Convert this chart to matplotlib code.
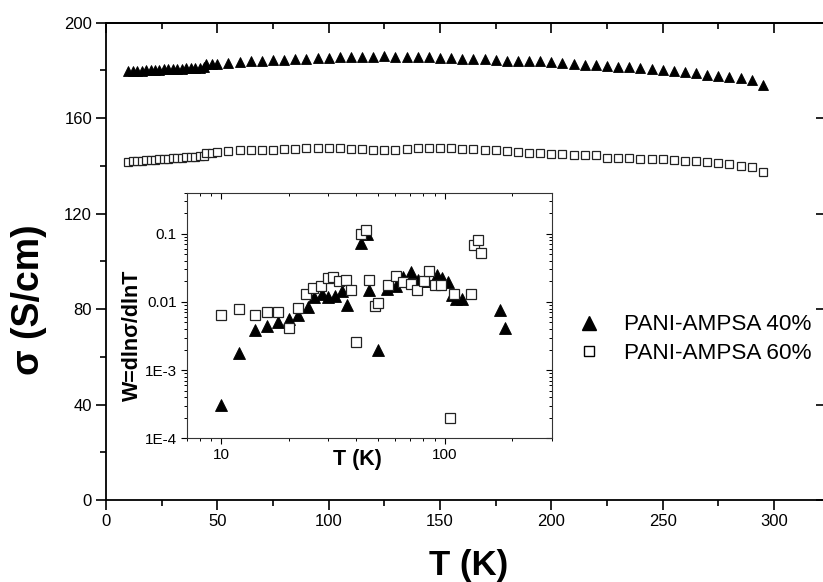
import matplotlib
matplotlib.use("Agg")
import matplotlib.pyplot as plt
from matplotlib.lines import Line2D
from matplotlib.ticker import MultipleLocator, FixedLocator, FixedFormatter, NullFormatter, LogLocator

plt.rcParams['font.family'] = ['Liberation Sans', 'DejaVu Sans']

# Conductivity vs temperature (S/cm)
temp = [10, 12, 14, 16, 18, 20, 22, 24, 26, 28, 30, 32, 34, 36, 38, 40, 42, 44,
        45, 47.5, 50, 55, 60, 65, 70, 75, 80, 85, 90, 95, 100, 105, 110, 115, 120,
        125, 130, 135, 140, 145, 150, 155, 160, 165, 170, 175, 180, 185, 190, 195,
        200, 205, 210, 215, 220, 225, 230, 235, 240, 245, 250, 255, 260, 265, 270,
        275, 280, 285, 290, 295]
sigma_40 = [179.6, 179.7, 179.8, 179.9, 180.0, 180.1, 180.2, 180.3, 180.4, 180.5,
            180.6, 180.7, 180.8, 180.9, 181.0, 181.1, 181.2, 181.4,
            182.6, 182.7, 182.9, 183.1, 183.4, 183.8, 184.1, 184.2, 184.5, 184.8,
            184.9, 185.2, 185.2, 185.5, 185.5, 185.6, 185.7, 185.9, 185.6, 185.6,
            185.5, 185.5, 185.2, 185.2, 184.9, 184.9, 184.8, 184.5, 184.1, 184.1,
            183.8, 183.8, 183.5, 183.1, 182.7, 182.4, 182.4, 181.7, 181.5, 181.3,
            181.0, 180.7, 180.3, 179.6, 179.3, 178.9, 178.2, 177.8, 177.1, 176.8,
            176.1, 174.0]
sigma_60 = [141.8, 142.0, 142.1, 142.2, 142.4, 142.5, 142.6, 142.8, 142.9, 143.0,
            143.2, 143.3, 143.4, 143.6, 143.7, 143.8, 144.0, 144.2,
            145.5, 145.6, 145.7, 146.1, 146.5, 146.5, 146.8, 146.8, 147.0, 147.1,
            147.3, 147.3, 147.3, 147.3, 147.1, 147.0, 146.5, 146.5, 146.6, 147.1,
            147.6, 147.6, 147.4, 147.3, 147.0, 146.9, 146.8, 146.5, 146.1, 145.8,
            145.4, 145.2, 145.0, 144.8, 144.6, 144.5, 144.5, 143.3, 143.2, 143.1,
            143.0, 142.9, 142.7, 142.4, 142.2, 142.0, 141.6, 141.2, 140.7, 140.1,
            139.6, 137.4]

# Reduced activation energy W = dln(sigma)/dln(T)
w_temp_40 = [10, 12.0, 14.1, 16.0, 18.0, 20.1, 22.1, 24.3, 26.0, 28.3, 30.1, 32.3,
             34.6, 36.4, 42.1, 45.0, 45.9, 50.4, 54.9, 60.4, 65.1, 70.3, 76.1, 82.8,
             92, 97, 103, 107, 112, 118.6, 176, 185.5]
w_40 = [3.1e-4, 1.8e-3, 3.9e-3, 4.5e-3, 5.1e-3, 5.7e-3, 6.4e-3, 8.3e-3, 0.0118,
        0.0132, 0.0118, 0.0121, 0.0143, 8.9e-3, 0.074, 0.098, 0.0148, 2.0e-3,
        0.0157, 0.0169, 0.0232, 0.0275, 0.0207, 0.0203, 0.0245, 0.0225, 0.0195,
        0.0125, 0.0112, 0.0112, 7.6e-3, 4.1e-3]
w_temp_60 = [10, 12.0, 14.1, 16.0, 18.0, 20.1, 22.0, 23.9, 25.8, 28.0, 29.9, 31.7,
             33.7, 36.1, 37.9, 40.1, 42.3, 44.2, 45.9, 48.4, 50.4, 55.5, 60.4, 65.1,
             70.3, 75.2, 80.5, 85.1, 90.2, 95.6, 105.2, 110.2, 130.3, 134.7, 140.8,
             144.8]
w_60 = [6.4e-3, 7.8e-3, 6.4e-3, 7.1e-3, 7.0e-3, 4.2e-3, 8.2e-3, 0.0132, 0.0162,
        0.0171, 0.0227, 0.0232, 0.0203, 0.0207, 0.0151, 2.6e-3, 0.100, 0.112,
        0.0207, 8.7e-3, 9.8e-3, 0.0175, 0.024, 0.0196, 0.0182, 0.0148, 0.0200,
        0.0285, 0.0175, 0.0175, 1.96e-4, 0.0132, 0.0129, 0.0675, 0.0817, 0.0521]

labels = ['PANI-AMPSA 40%', 'PANI-AMPSA 60%']

W, H = 823, 582
fig = plt.figure(figsize=(W / 100, H / 100), dpi=100)

# main plot
ax = fig.add_axes([106 / W, 1 - 500 / H, 717 / W, 477.3 / H])
ax.plot(temp, sigma_40, ls='none', marker='^', ms=7.6, mfc='black', mec='black', mew=0.6)
ax.plot(temp, sigma_60, ls='none', marker='s', ms=6.3, mfc='white', mec='#222222', mew=0.9)
ax.set_xlim(0, 322)
ax.set_ylim(0, 200)
ax.spines['right'].set_visible(False)
for s in ['left', 'bottom', 'top']:
    ax.spines[s].set_linewidth(1.3)
ax.xaxis.set_major_locator(MultipleLocator(50))
ax.xaxis.set_minor_locator(MultipleLocator(25))
ax.yaxis.set_major_locator(MultipleLocator(40))
ax.yaxis.set_minor_locator(MultipleLocator(20))
ax.tick_params(which='major', direction='out', length=7, width=1.2, labelsize=12, pad=3)
ax.tick_params(which='minor', direction='out', length=4, width=1.2)
ax.set_xlabel('T (K)', fontsize=25, fontweight='bold')
ax.xaxis.set_label_coords(0.506, -0.102)
ax.set_ylabel('σ (S/cm)', fontsize=27, fontweight='bold')
ax.yaxis.set_label_coords(-0.082, 0.42)

top = ax.secondary_xaxis('top')
top.xaxis.set_major_locator(MultipleLocator(50))
top.xaxis.set_minor_locator(MultipleLocator(25))
top.tick_params(which='major', direction='in', length=7, width=1.2, labeltop=False)
top.tick_params(which='minor', direction='in', length=4, width=1.2)
top.spines['top'].set_linewidth(1.3)
right = ax.secondary_yaxis('right')
right.yaxis.set_major_locator(MultipleLocator(40))
right.yaxis.set_minor_locator(MultipleLocator(20))
right.tick_params(which='major', direction='in', length=5, width=1.2, labelright=False)
right.tick_params(which='minor', direction='in', length=0)
right.spines['right'].set_visible(False)

handles = [Line2D([], [], ls='none', marker='^', ms=10, mfc='black', mec='black'),
           Line2D([], [], ls='none', marker='s', ms=7.5, mfc='white', mec='black', mew=1.0)]
fig.legend(handles, labels, loc='center left', bbox_to_anchor=(579 / W, 1 - 339 / H),
           frameon=False, fontsize=16.2, handlelength=0.9, handletextpad=1.1,
           borderpad=0, borderaxespad=0, labelspacing=0.32)

# inset: W vs T on log-log axes
ins = fig.add_axes([186.7 / W, 1 - 438.3 / H, 365 / W, 245.6 / H])
ins.plot(w_temp_40, w_40, ls='none', marker='^', ms=8.6, mfc='black', mec='black', mew=0.6)
ins.plot(w_temp_60, w_60, ls='none', marker='s', ms=7.0, mfc='white', mec='#222222', mew=0.9)
ins.set_xscale('log')
ins.set_yscale('log')
ins.set_xlim(7, 300)
ins.set_ylim(1e-4, 0.4)
for s in ins.spines.values():
    s.set_linewidth(0.8)
    s.set_color('#333333')
ins.yaxis.set_major_locator(FixedLocator([1e-4, 1e-3, 1e-2, 1e-1]))
ins.yaxis.set_major_formatter(FixedFormatter(['1E-4', '1E-3', '0.01', '0.1']))
ins.yaxis.set_minor_locator(LogLocator(base=10, subs=range(2, 10)))
ins.yaxis.set_minor_formatter(NullFormatter())
ins.xaxis.set_major_locator(FixedLocator([10, 100]))
ins.xaxis.set_major_formatter(FixedFormatter(['10', '100']))
ins.xaxis.set_minor_locator(LogLocator(base=10, subs=range(2, 10)))
ins.xaxis.set_minor_formatter(NullFormatter())
ins.tick_params(which='major', direction='out', length=4, width=0.8, labelsize=11, pad=3)
ins.tick_params(which='minor', direction='out', length=2, width=0.7)
ins.set_xlabel('T (K)', fontsize=15.5, fontweight='bold')
ins.xaxis.set_label_coords(0.469, -0.045)
ins.set_ylabel('W=dlnσ/dlnT', fontsize=15.5, fontweight='bold')
ins.yaxis.set_label_coords(-0.12, 0.42)

itop = ins.secondary_xaxis('top')
itop.xaxis.set_major_locator(FixedLocator([10, 100]))
itop.xaxis.set_minor_locator(LogLocator(base=10, subs=range(2, 10)))
itop.tick_params(which='major', direction='in', length=4, width=0.8, labeltop=False)
itop.tick_params(which='minor', direction='in', length=2, width=0.7, labeltop=False)
itop.spines['top'].set_visible(False)
iright = ins.secondary_yaxis('right')
iright.yaxis.set_major_locator(FixedLocator([1e-4, 1e-3, 1e-2, 1e-1]))
iright.yaxis.set_minor_locator(LogLocator(base=10, subs=range(2, 10)))
iright.tick_params(which='major', direction='in', length=4, width=0.8, labelright=False)
iright.tick_params(which='minor', direction='in', length=2, width=0.7, labelright=False)
iright.spines['right'].set_visible(False)

fig.savefig('out.png', dpi=100)
